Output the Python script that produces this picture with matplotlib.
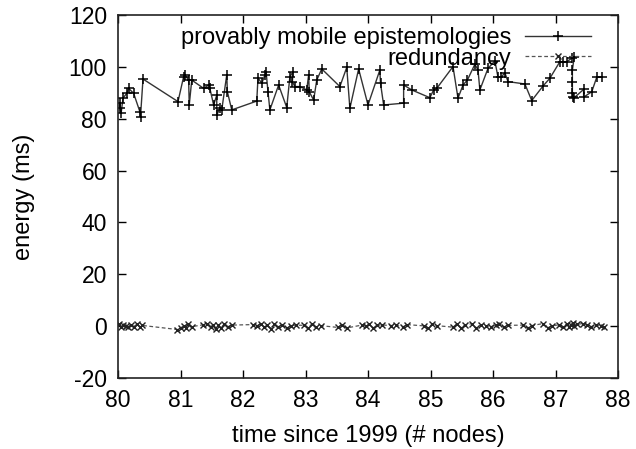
import matplotlib
matplotlib.use("Agg")
import matplotlib.pyplot as plt

# provably mobile epistemologies
x1 = [80.03, 80.03, 80.05, 80.08, 80.14, 80.17, 80.25, 80.35, 80.36, 80.40,
      80.96, 81.05, 81.07, 81.13, 81.14, 81.18, 81.37, 81.45, 81.47, 81.53,
      81.58, 81.58, 81.63, 81.66, 81.74, 81.75, 81.82, 82.22, 82.24, 82.30,
      82.35, 82.37, 82.40, 82.43, 82.57, 82.70, 82.75, 82.80, 82.79, 82.83,
      82.91, 83.02, 83.05, 83.06, 83.13, 83.18, 83.26, 83.55, 83.66, 83.71,
      83.85, 84.00, 84.19, 84.20, 84.25, 84.57, 84.57, 84.70, 84.99, 85.05,
      85.10, 85.36, 85.44, 85.52, 85.59, 85.71, 85.76, 85.79, 85.92, 86.03,
      86.08, 86.13, 86.19, 86.24, 86.51, 86.62, 86.80, 86.91, 87.07, 87.12,
      87.18, 87.26, 87.30, 87.27, 87.27, 87.27, 87.28, 87.29, 87.45, 87.45,
      87.58, 87.66, 87.74]
y1 = [85.9, 84.0, 82.1, 87.9, 89.8, 91.7, 89.8, 82.7, 80.8, 95.3,
      86.6, 96.2, 97.0, 94.9, 85.3, 94.9, 91.7, 93.0, 91.7, 85.3,
      89.1, 81.4, 84.0, 83.4, 96.9, 90.4, 83.4, 86.8, 95.8, 93.6,
      96.9, 97.9, 90.4, 83.4, 93.0, 84.3, 96.2, 98.1, 94.3, 92.4,
      92.4, 91.1, 96.9, 90.4, 87.2, 94.9, 99.2, 92.4, 99.8, 84.0,
      99.2, 85.3, 98.8, 93.7, 85.3, 86.0, 93.0, 91.1, 88.1, 91.1,
      91.7, 100.1, 87.9, 93.0, 94.9, 101.0, 98.8, 91.1, 99.4, 102.3,
      96.0, 96.0, 97.7, 94.3, 93.4, 87.0, 92.6, 95.6, 102.0, 102.0,
      102.0, 103.3, 103.9, 98.8, 94.3, 89.8, 88.5, 87.9, 91.3, 88.3,
      90.4, 96.0, 96.0]

# redundancy
x2 = [80.02, 80.05, 80.08, 80.12, 80.16, 80.20, 80.25, 80.30, 80.35, 80.38,
      80.95, 81.00, 81.05, 81.08, 81.12, 81.18, 81.36, 81.42, 81.48, 81.52,
      81.56, 81.60, 81.64, 81.70, 81.76, 81.82, 82.16, 82.22, 82.28, 82.34,
      82.38, 82.45, 82.50, 82.56, 82.62, 82.70, 82.76, 82.84, 82.98, 83.04,
      83.10, 83.16, 83.24, 83.52, 83.58, 83.66, 83.90, 83.96, 84.02, 84.08,
      84.14, 84.22, 84.36, 84.44, 84.56, 84.62, 84.90, 84.96, 85.02, 85.10,
      85.36, 85.42, 85.48, 85.55, 85.66, 85.72, 85.80, 85.88, 85.96, 86.04,
      86.10, 86.18, 86.24, 86.48, 86.56, 86.62, 86.80, 86.88, 86.94, 87.05,
      87.12, 87.18, 87.22, 87.25, 87.28, 87.30, 87.34, 87.44, 87.50, 87.56,
      87.64, 87.72, 87.78]
y2 = [0.8, -0.3, 0.6, 0.2, -0.5, 0.4, -0.2, 0.7, -0.4, 0.3,
      -1.3, -0.8, 0.2, -0.6, 0.9, -0.2, 0.5, 1.0, -0.4, 0.6,
      -1.0, 0.3, -0.7, 0.8, -0.2, 0.4, 0.6, 0.2, 0.9, -0.5,
      0.3, -1.0, 0.7, -0.3, 0.5, -0.8, 0.1, 0.4, 0.3, -0.6,
      0.8, -0.4, 0.2, -0.5, 0.6, -0.7, 0.4, 0.1, 0.9, -0.8,
      0.3, 0.5, 0.2, 0.4, -0.3, 0.6, 0.1, -0.9, 0.7, 0.2,
      -0.4, 0.8, -0.6, 0.3, 1.0, -0.8, 0.4, 0.2, -0.3, 0.5,
      0.9, -0.5, 0.3, 0.4, -0.7, 0.2, 1.0, -0.6, 0.1, 0.5,
      -0.4, 0.8, -0.2, 0.6, 1.2, 0.0, 0.7, 1.0, 0.6, -0.3,
      0.5, 0.2, -0.4]

xticks = [80, 81, 82, 83, 84, 85, 86, 87, 88]
yticks = [-20, 0, 20, 40, 60, 80, 100, 120]

plt.rcParams['font.family'] = ['Liberation Sans', 'DejaVu Sans']
plt.rcParams['axes.unicode_minus'] = False

fig = plt.figure(figsize=(6.36, 4.49), dpi=100)
ax = fig.add_axes([118/636, 1 - 378/449, 500/636, 363/449])

ax.plot(x1, y1, color='#333333', lw=1.0, marker='+', ms=7, mew=1.1,
        mec='black', label='provably mobile epistemologies')
ax.plot(x2, y2, color='#555555', lw=0.9, ls=(0, (3, 2)), marker='x', ms=5,
        mew=1.0, mec='#222222', label='redundancy')

ax.set_xlim(80, 88)
ax.set_ylim(-20, 120)
ax.set_xticks(xticks)
ax.set_yticks(yticks)
ax.tick_params(direction='in', length=6, width=1.0, top=True, right=True,
               labelsize=16.5, pad=8, colors='black')
for s in ax.spines.values():
    s.set_linewidth(1.2)
    s.set_color('#222222')

ax.set_xlabel('time since 1999 (# nodes)', fontsize=17, labelpad=9)
ax.set_ylabel('energy (ms)', fontsize=17, labelpad=24)

leg = ax.legend(loc='upper right', bbox_to_anchor=(0.97, 1.0), frameon=False,
                markerfirst=False, fontsize=17, handlelength=2.8,
                handletextpad=0.6, labelspacing=-0.05, borderaxespad=0.1)

fig.savefig('out.png', dpi=100)
